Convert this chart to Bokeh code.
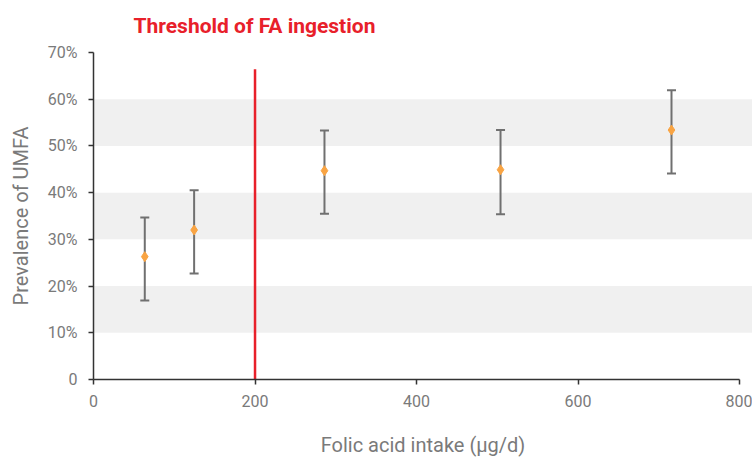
from bokeh.plotting import figure
from bokeh.models import (ColumnDataSource, Whisker, BoxAnnotation, FixedTicker,
                          Range1d)
from bokeh.embed import file_html
from bokeh.resources import INLINE

# Data
intake = [63.5, 124.6, 286.0, 504.0, 715.7]
prevalence = [26.3, 32.0, 44.7, 44.9, 53.4]
upper = [34.7, 40.5, 53.3, 53.4, 61.9]
lower = [16.9, 22.7, 35.5, 35.4, 44.1]
threshold = 200
threshold_top = 66.4
y_ticks = [0, 10, 20, 30, 40, 50, 60, 70]
y_labels = ["0", "10%", "20%", "30%", "40%", "50%", "60%", "70%"]
x_ticks = [0, 200, 400, 600, 800]
bands = [(10, 20), (30, 40), (50, 60)]

FONT = "Roboto"
GRAY = "#7a7a7a"

p = figure(width=752, height=459, output_backend="svg", toolbar_location=None,
           x_range=Range1d(0, 816), y_range=Range1d(0, 70),
           min_border_left=93, min_border_right=0, min_border_top=51,
           min_border_bottom=80)
p.outline_line_color = None
p.xgrid.grid_line_color = None
p.ygrid.grid_line_color = None

p.title.text = "Threshold of FA ingestion"
p.title.text_font = FONT
p.title.text_font_size = "21px"
p.title.text_font_style = "bold"
p.title.text_color = "#e8202a"
p.title.align = "left"
p.title.vertical_align = "top"
p.title.offset = 40
p.title.standoff = 26

for b0, b1 in bands:
    p.add_layout(BoxAnnotation(bottom=b0, top=b1, fill_color="#f0f0f0",
                               fill_alpha=1.0, line_color=None, level="underlay"))

src = ColumnDataSource(dict(x=intake, y=prevalence, upper=upper, lower=lower))

w = Whisker(base="x", upper="upper", lower="lower", source=src,
            line_color="#707070", line_width=2)
for h in (w.upper_head, w.lower_head):
    h.size = 9
    h.line_color = "#707070"
    h.line_width = 2
p.add_layout(w)

p.segment(x0=[threshold], y0=[-1.4], x1=[threshold], y1=[threshold_top],
          line_color="#e8202a", line_width=2.5)

p.scatter(x="x", y="y", source=src, marker="diamond", size=10,
          fill_color="#f9a443", line_color="#f9a443")

p.xaxis.ticker = FixedTicker(ticks=x_ticks)
p.xaxis.bounds = (0, 800)
p.yaxis.ticker = FixedTicker(ticks=y_ticks)
p.yaxis.major_label_overrides = {t: l for t, l in zip(y_ticks, y_labels)}

for ax in (p.xaxis, p.yaxis):
    ax.axis_line_color = "#333333"
    ax.axis_line_width = 1.5
    ax.major_tick_line_color = "#333333"
    ax.major_tick_line_width = 1.5
    ax.major_tick_in = 0
    ax.major_tick_out = 5
    ax.minor_tick_line_color = None
    ax.major_label_text_font = FONT
    ax.major_label_text_font_size = "16px"
    ax.major_label_text_color = GRAY
    ax.axis_label_text_font = FONT
    ax.axis_label_text_font_size = "20px"
    ax.axis_label_text_color = GRAY
    ax.axis_label_text_font_style = "normal"

p.xaxis.axis_label = "Folic acid intake (μg/d)"
p.yaxis.axis_label = "Prevalence of UMFA"
p.xaxis.major_label_standoff = 10
p.xaxis.axis_label_standoff = 23
p.yaxis.major_label_standoff = 11
p.yaxis.axis_label_standoff = 12

open("out.html", "w").write(file_html(p, INLINE))
